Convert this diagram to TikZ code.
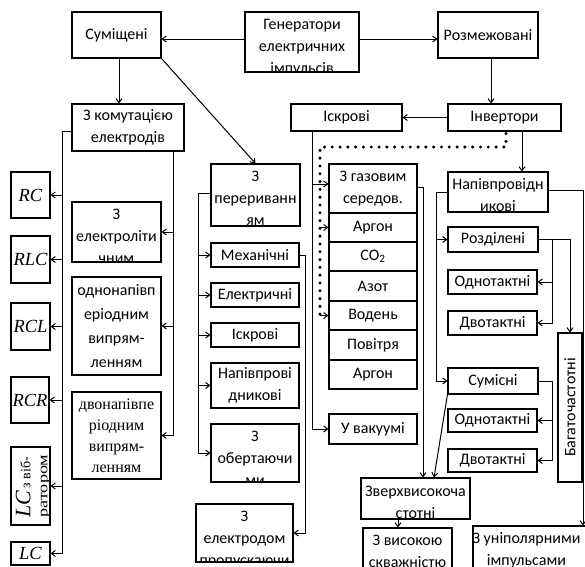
\documentclass[tikz,border=0pt]{standalone}
\usepackage{fontspec}
\setmainfont{Carlito}
\newfontfamily\tnr{Liberation Serif}
\usetikzlibrary{arrows.meta,fit,calc}
\newcommand\fs{\fontsize{16}{22}\selectfont}
% plain box: [text opts]{name}{x1}{y1}{x2}{y2}{text}
\newcommand\bx[7][]{%
  \node[box, fit={(#3,#4)(#5,#6)}] (#2) {};
  \node[txt,#1] (#2-t) at (#2.center) {#7};}
% box whose text runs over its lower edge and is cut there
\newcommand\cbx[7][]{%
  \begin{scope}
    \clip (#3,#4) rectangle (#5,#6);
    \node[txt, anchor=north, inner ysep=2pt, #1] (#2-t) at ({(#3+#5)/2},#4) {\strut #7};
  \end{scope}
  \node[box, fit={(#3,#4)(#5,#6)}] (#2) {};}
\begin{document}
\begin{tikzpicture}[x=1pt,y=-1pt,
  box/.style={draw, line width=1.1pt, inner sep=0pt},
  txt/.style={font=\fs, align=center, inner sep=0pt},
  con/.style={line width=1pt},
  arr/.style={con, -{Straight Barb[length=4pt,width=6pt]}},
  dots/.style={line width=3.4pt, dash pattern=on 0pt off 7.8pt, line cap=round},
  rs/.style={font=\tnr\itshape\fontsize{18.5}{20}\selectfont}]
\useasboundingbox (0,0) rectangle (585,566);
\clip (0,0) rectangle (585,566);

% top row
\cbx{gen}{245}{12}{359}{72}{Генератори\\електричних\\імпульсів}
\bx{sum}{72}{12}{161}{58}{Суміщені}
\bx{roz}{438}{12}{538}{58}{Розмежовані}
\bx{kom}{72}{104}{184}{151}{З комутацією\\електродів}
\bx{iskA}{291}{104}{402}{131}{Іскрові}
\bx{inv}{448}{104}{561}{131}{Інвертори}

% left column
\bx[rs]{rc}{11}{172}{50}{218}{RC}
\bx[rs]{rlc}{11}{236}{50}{283}{RLC}
\bx[rs]{rcl}{11}{303}{50}{350}{RCL}
\bx[rs]{rcr}{11}{377}{49}{423}{RCR}
\node[box, fit={(11,447)(50,525)}] (lcv) {};
\node[rotate=90, align=left, inner sep=0pt, font=\tnr\fontsize{14}{17}\selectfont] (lcv-t) at (33,486)
  {{\itshape\fontsize{22}{17}\selectfont LC}\,з віб-\\\scalebox{1.3}[1]{ратором}};
\bx[rs]{lc}{11}{542}{50}{565}{LC}

\cbx{el}{72}{202}{161}{262}{З\\електроліти\\чним}
\bx{odn}{72}{277}{161}{375}{однонапівп\\[2pt]еріодним\\[2pt]випрям-\\[2pt]ленням}
\bx[font=\tnr\fontsize{16}{21}\selectfont]{dvo}{72}{392}{161}{479}{двонапівпе\\ріодним\\випрям-\\ленням}

% middle column
\cbx{per}{211}{164}{300}{226}{З\\перериванн\\ям}
\bx{mex}{211}{243}{299}{267}{Механічні}
\bx{ele}{211}{283}{299}{307}{Електричні}
\bx{isk}{211}{323}{299}{347}{Іскрові}
\bx{nap}{211}{363}{299}{408}{Напівпрові\\дникові}
\cbx{obe}{211}{424}{299}{482}{З\\обертаючи\\ми}
\cbx{eld}{196}{504}{293}{562}{З\\електродом\\пропускаючи}

% gases
\bx{gas}{329}{164}{417}{213}{З газовим\\середов.}
\bx{ar1}{329}{213}{417}{242}{Аргон}
\bx{co2}{329}{242}{417}{271}{CO\textsubscript{2}}
\bx{azo}{329}{271}{417}{301}{Азот}
\bx{vod}{329}{301}{417}{330}{Водень}
\bx{pov}{329}{330}{417}{360}{Повітря}
\bx{ar2}{329}{360}{417}{389}{Аргон}
\bx{vak}{329}{414}{417}{444}{У вакуумі}

% right column
\cbx{npv}{448}{172}{548}{212}{Напівпровідн\\икові}
\bx{rzd}{448}{227}{538}{252}{Розділені}
\bx{od1}{448}{270}{537}{294}{Однотактні}
\bx{dv1}{448}{311}{537}{335}{Двотактні}
\node[box, fit={(558,333)(582,482)}] (bag) {};
\node[txt, rotate=90] (bag-t) at (bag.center) {Багаточастотні};
\bx{sms}{448}{368}{538}{394}{Сумісні}
\bx{od2}{448}{409}{537}{432}{Однотактні}
\bx{dv2}{448}{449}{537}{472}{Двотактні}
\cbx[inner ysep=3pt]{zvr}{361}{478}{470}{519}{Зверхвисокоча\\стотні}
\cbx{zvs}{363}{528}{452}{600}{З високою\\скважністю}
\cbx[xshift=-10pt]{uni}{473}{526}{600}{600}{З уніполярними\\імпульсами}

% helper coordinates
\coordinate (ya) at (0,39);
\coordinate (xa) at (119,0);
\coordinate (xb) at (491,0);
\coordinate (dA) at (506,147);
\coordinate (dB) at (320,147);
\coordinate (xs) at (312,0);
\coordinate (yg) at (0,184);
\coordinate (xg) at (423,0);
\coordinate (yg2) at (0,187);
\coordinate (xm) at (198,0);
\coordinate (ym) at (0,193);
\coordinate (xm2) at (305,0);
\coordinate (xl) at (62,0);
\coordinate (yl) at (0,131);
\coordinate (xk) at (173,0);
\coordinate (xi) at (522,0);
\coordinate (xn) at (436,0);
\coordinate (xr) at (583,0);
\coordinate (yr) at (0,190);
\coordinate (xq) at (552,0);
\coordinate (xz) at (434,0);
\coordinate (xz2) at (398,0);

% connectors
\draw[arr] (gen.west |- ya) -- (sum.east |- ya);
\draw[arr] (gen.east |- ya) -- (roz.west |- ya);
\draw[arr] (xa |- sum.south) -- (xa |- kom.north);
\draw[arr] (sum.south east) -- (per.north);
\draw[arr] (xb |- roz.south) -- (xb |- inv.north);
\draw[arr] (inv.west) -- (iskA.east);

\draw[dots] ([yshift=-2pt]dA |- inv.south) -- (dA) -- (dB) -- (dB |- vod.east);
\draw[arr] (dB |- ar1.west) -- (ar1.west);
\draw[arr] (dB |- vod.west) -- (vod.west);

\draw[arr] (xs |- iskA.south) |- (vak.west);
\draw[arr] (xs |- yg) -- (gas.west |- yg);
\draw[arr] (gas.east |- yg2) -- (xg |- yg2) -- (xg |- zvr.north);

\draw[arr] (per.west |- ym) -| (xm |- obe.west) -- (obe.west);
\foreach \n in {mex,ele,isk,nap} \draw[arr] (xm |- \n.west) -- (\n.west);
\draw[arr] (mex.east) -| (xm2 |- eld.east) -- (eld.east);

\draw[arr] (kom.west |- yl) -| (xl |- lc.east) -- (lc.east);
\foreach \n in {rc,rlc,rcl,rcr,lcv} \draw[arr] (xl |- \n.east) -- (\n.east);
\draw[arr] (xk |- kom.south) |- (dvo.east);
\foreach \n in {el,odn} \draw[arr] (xk |- \n.east) -- (\n.east);

\draw[arr] (xi |- inv.south) -- (xi |- npv.north);
\draw[arr] (npv.west) -| (xn |- sms.west) -- (sms.west);
\draw[arr] (xn |- rzd.west) -- (rzd.west);
\draw[arr] (npv.east |- yr) -- (xr |- yr) -- (xr |- uni.north);
\draw[arr] (rzd.east) -| (bag.north);
\draw[arr] (rzd.east) -| (xq |- dv1.east) -- (dv1.east);
\draw[arr] (xq |- od1.east) -- (od1.east);
\draw[arr] (sms.east) -| (xq |- dv2.east) -- (dv2.east);
\draw[arr] (xq |- od2.east) -- (od2.east);
\draw[arr] (sms.south west) -- (xz |- zvr.north);
\draw[arr] (xz2 |- zvr.south) -- (xz2 |- zvs.north);
\end{tikzpicture}
\end{document}
